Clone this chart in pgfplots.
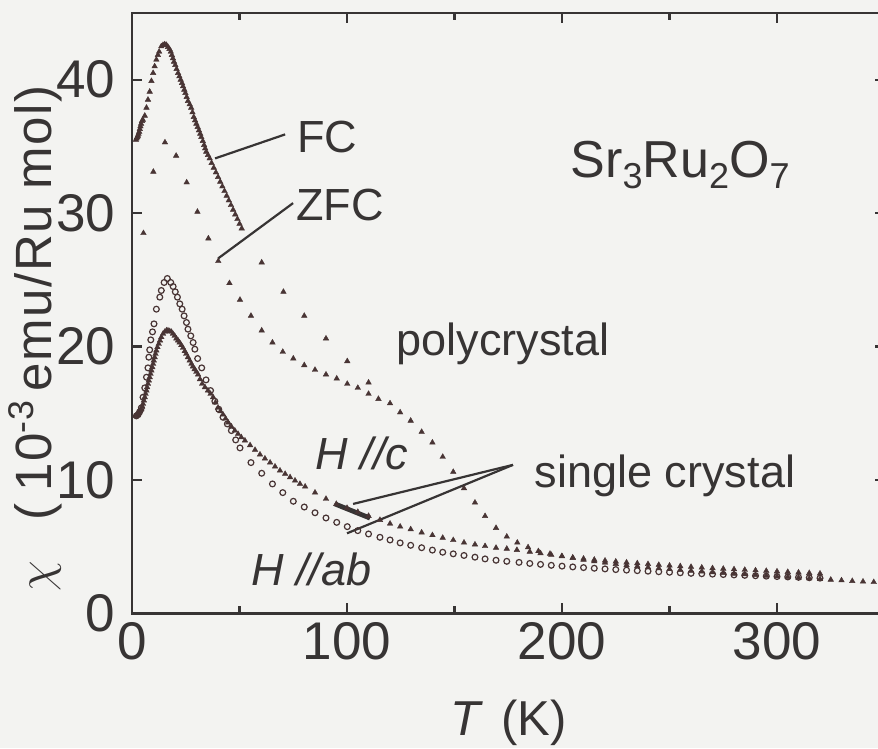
\documentclass[border=0pt]{standalone}
\usepackage{fontspec}
\setmainfont{Liberation Sans}
\usepackage{pgfplots}
\pgfplotsset{compat=1.18}
\usetikzlibrary{backgrounds}
\definecolor{ink}{RGB}{55,52,52}
\definecolor{dots}{RGB}{72,52,52}
\definecolor{bg}{RGB}{243,243,241}
\newcommand{\ann}{\fontsize{22.5}{27}\selectfont}
\begin{document}
\begin{tikzpicture}
\begin{axis}[
  scale only axis, width=376pt, height=300pt,
  xmin=0, xmax=350, ymin=0, ymax=45,
  xtick={0,100,200,300}, minor xtick={50,150,250},
  ytick={0,10,20,30,40},
  tick align=inside, major tick length=5pt, minor tick length=3.5pt,
  axis line style={line width=1.2pt, ink},
  every tick/.style={line width=1.1pt, ink},
  tick label style={font=\fontsize{26.5}{26.5}\selectfont, text=ink},
  /pgf/number format/assume math mode=true,
  yticklabel style={xshift=-5pt},
  xticklabel style={yshift=-1pt},
  xlabel={\textit{T}\hspace{9pt}(K)},
  xlabel style={at={(axis description cs:0.5,0)}, anchor=base, yshift=-61pt, font=\fontsize{24.5}{25}\selectfont, text=ink},
  ylabel={$\chi$\hspace{20pt}{\addfontfeature{LetterSpace=3}(\hspace{6pt}10\textsuperscript{-3}\,emu/Ru mol)}},
  ylabel style={at={(axis description cs:-0.129,0.458)}, anchor=center, font=\fontsize{25.5}{25.5}\selectfont, text=ink},
  tri/.style={only marks, mark=triangle*, mark size=1.6pt, color=dots, mark options={line width=0.2pt}},
  circ/.style={only marks, mark=o, mark size=1.45pt, color=dots, mark options={line width=0.6pt}},
]
% polycrystal FC
\addplot[tri] coordinates {
(1.8,35.5)(2.1,35.6)(2.4,35.7)(2.7,35.8)(3.0,35.95)(3.3,36.1)(3.6,36.3)(3.9,36.5)(4.2,36.7)(4.6,36.9)(5.0,37.0)
(5.9,37.3)(6.7,37.9)(7.4,38.5)(8.2,39.1)(9.0,39.9)(9.8,40.5)(10.5,41.0)(11.3,41.5)(12.0,41.85)(12.6,42.1)
(13.6,42.5)(14.4,42.6)(15.2,42.65)(16.0,42.6)(16.7,42.45)(17.4,42.3)(18.0,42.1)(18.5,41.85)(19.0,41.6)(19.5,41.35)
(20.1,41.1)(20.7,40.8)(21.4,40.5)(22.0,40.25)(22.6,40.0)(23.2,39.75)(23.7,39.5)(24.3,39.25)(24.8,39.0)(25.4,38.7)
(26.0,38.4)(26.8,38.15)(27.5,37.9)(28.1,37.55)(28.7,37.2)(29.3,36.95)(29.9,36.7)(30.5,36.45)(31.1,36.2)(31.7,35.95)
(32.2,35.7)(32.9,35.4)(33.5,35.1)(34.0,34.85)(34.5,34.6)(35.3,34.35)(36.1,34.1)(37.0,33.75)(38.0,33.4)(39.0,33.05)
(40.0,32.7)(41.0,32.35)(42.0,32.0)(43.0,31.65)(44.0,31.3)(45.0,30.95)(46.0,30.6)(47.0,30.25)(48.0,29.9)(49.0,29.55)
(50.0,29.2)(51.0,28.85)
(60.3,26.3)(70.4,24.1)(80.1,22.3)(90.2,20.6)(100.1,18.9)(110,17.3)
};
% polycrystal ZFC
\addplot[tri] coordinates {
(5.3,28.5)(9.9,33.1)(15.3,35.3)(20.5,34.3)(25.4,32.3)(30.4,30.1)(35.5,28.1)(40.1,26.4)(45.3,24.75)(50.2,23.5)
(55.3,22.3)(60.3,21.2)(65.3,20.3)(70.1,19.6)(75,19.1)(80.1,18.6)(85.1,18.25)(90.2,17.9)(95.2,17.6)(100.1,17.2)
(105,16.9)(110,16.45)
};
% polycrystal, FC and ZFC together above 115 K
\addplot[tri] coordinates {
(114.6,16.07)(120,15.74)(124.7,15.06)(129.6,14.44)(134.7,13.6)(139.7,12.8)(144.5,11.73)(149.4,10.6)(154.4,9.37)
(159.5,8.3)(164.2,7.29)(169.3,6.4)(174.3,5.75)(179.2,5.3)(184.2,4.95)(189,4.66)(194.4,4.46)(199.9,4.29)(205,4.15)
(210,4.02)(215,3.9)(220,3.8)(225,3.7)(230,3.61)(235,3.53)(240,3.45)(245,3.38)(250,3.31)(255,3.25)(260,3.19)
(265,3.13)(270,3.07)(275,3.02)(280,2.97)(285,2.92)(290,2.87)(295,2.82)(300,2.77)(305,2.72)(310,2.67)(315,2.62)
(320,2.57)(325,2.52)(330,2.47)(335,2.42)(340,2.38)(345,2.34)
};
% single crystal H // c
\addplot[tri] coordinates {
(1.5,14.8)(2.0,14.8)(2.5,14.85)(2.8,14.95)(3.2,15.05)(3.6,15.15)(4.0,15.25)(4.3,15.3)(4.7,15.5)(5.1,15.7)(5.5,15.95)
(5.9,16.2)(6.3,16.45)(6.7,16.7)(7.0,16.95)(7.4,17.2)(7.8,17.45)(8.2,17.7)(8.6,17.95)(9.0,18.2)(9.4,18.45)(9.8,18.7)
(10.1,18.95)(10.5,19.2)(10.9,19.45)(11.3,19.7)(11.8,19.95)(12.4,20.2)(13.0,20.45)(13.6,20.7)(14.4,20.95)(15.2,21.1)
(16.0,21.2)(16.7,21.2)(17.5,21.15)(18.3,21.1)(19.0,20.95)(19.8,20.8)(20.6,20.6)(21.4,20.45)(22.1,20.3)(22.9,20.1)
(23.7,19.9)(24.5,19.65)(25.2,19.45)(26.0,19.2)(26.8,18.95)(27.6,18.7)(28.3,18.5)(29.1,18.3)(29.9,18.1)(30.7,17.9)
(31.6,17.55)(32.6,17.2)(33.9,16.95)(35.3,16.7)(36.5,16.45)(37.7,16.2)(38.8,15.8)(40.0,15.4)(41.1,15.15)(42.3,14.9)
(43.5,14.6)(44.7,14.3)(46.2,14.0)(47.8,13.7)(49.3,13.45)(50.8,13.2)(52.5,12.95)(54.9,12.6)(57.2,12.25)(59.5,11.9)
(61.8,11.6)(64.2,11.3)(66.5,11.0)(68.8,10.7)(71.2,10.45)(73.5,10.2)(75.8,9.95)(78.1,9.7)(80.5,9.5)
(85.1,9.05)(90.2,8.58)(95,8.2)(100,7.9)(105,7.6)(110,7.3)(115.3,7.0)(120,6.72)(124.7,6.5)(129.6,6.3)(134.7,6.06)
(139.7,5.86)(144.5,5.66)(149.4,5.49)(154.4,5.3)(159.5,5.16)(164.2,5.04)(169.3,4.91)(174.3,4.84)(179,4.75)(185,4.62)
(190,4.5)(195,4.38)(200,4.27)(205,4.18)(210,4.1)(215,4.02)(220,3.95)(225,3.88)(230,3.81)(235,3.75)(240,3.69)
(245,3.63)(250,3.58)(255,3.53)(260,3.48)(265,3.43)(270,3.38)(275,3.34)(280,3.3)(285,3.26)(290,3.22)(295,3.18)
(300,3.14)(305,3.1)(310,3.06)(315,3.02)(320,2.98)
};
% single crystal H // ab
\addplot[circ] coordinates {
(2.0,14.8)(2.8,14.9)(3.5,15.1)(4.3,15.4)(5.1,16.2)(5.9,16.9)(6.7,17.7)(7.4,18.4)(7.8,19.2)(8.2,19.75)(8.7,20.5)
(9.5,21.1)(10.2,21.7)(11.3,22.8)(12.9,23.7)(13.6,24.2)(14.9,24.8)(16.4,25.1)(18.0,24.8)(19.1,24.5)(20.1,24.1)
(21.1,23.7)(22.2,23.2)(23.3,22.8)(24.2,22.3)(25.3,21.8)(26.0,21.3)(27.3,20.8)(28.4,20.3)(29.2,19.8)(30.5,19.1)
(32.4,18.4)(34.4,17.5)(36.5,16.7)(38.5,15.9)(40.3,15.3)(42.3,14.7)(44.3,14.2)(46.2,13.7)(48.2,13.0)(50.2,12.4)
(55.3,11.3)(60.3,10.5)(65.3,9.7)(70.1,9.05)(75,8.4)(80.1,7.97)(85.1,7.54)(90.2,7.15)(95.2,6.82)(100.1,6.5)
(105,6.2)(110,5.95)(115.3,5.7)(120,5.5)(124.7,5.28)(129.6,5.1)(134.7,4.92)(139.7,4.74)(144.5,4.58)(149.4,4.46)
(154.4,4.34)(159.5,4.21)(164.2,4.08)(169.3,3.98)(174.3,3.9)(180,3.82)(185,3.74)(190,3.67)(195,3.6)(200,3.54)
(205,3.48)(210,3.43)(215,3.38)(220,3.33)(225,3.28)(230,3.24)(235,3.2)(240,3.16)(245,3.12)(250,3.08)(255,3.04)
(260,3.0)(265,2.97)(270,2.94)(275,2.91)(280,2.88)(285,2.85)(290,2.82)(295,2.79)(300,2.76)(305,2.73)(310,2.7)
(315,2.67)(320,2.64)
};
% leader lines
\draw[ink, line width=1.1pt] (axis cs:38.6,34.1) -- (axis cs:71.2,35.9);
\draw[ink, line width=1.1pt] (axis cs:40,26.6) -- (axis cs:74.9,30.75);
\draw[ink, line width=1.1pt] (axis cs:177.2,11.13) -- (axis cs:102.8,8.2);
\draw[ink, line width=1.1pt] (axis cs:177.2,11.13) -- (axis cs:100,6.0);
\draw[ink, line width=2.4pt] (axis cs:94.4,8.2) -- (axis cs:110.7,7.14);
% annotations
\node[text=ink, font=\ann] at (axis cs:90.7,35.7) {FC};
\node[text=ink, font=\ann] at (axis cs:96.7,30.6) {ZFC};
\node[text=ink, font=\fontsize{26}{30}\selectfont] at (axis cs:254.9,33.6)
  {Sr\raisebox{-5.5pt}{\fontsize{18}{18}\selectfont 3}Ru\raisebox{-5.5pt}{\fontsize{18}{18}\selectfont 2}O\raisebox{-5.5pt}{\fontsize{18}{18}\selectfont 7}};
\node[text=ink, font=\ann] at (axis cs:172.6,20.2) {polycrystal};
\node[text=ink, font=\ann] at (axis cs:107,12.0) {\textit{H //c}};
\node[text=ink, font=\ann] at (axis cs:83.3,3.3) {\textit{H //ab}};
\node[text=ink, font=\ann] at (axis cs:247.9,10.3) {single crystal};
\end{axis}
\pgfresetboundingbox
\path[use as bounding box] ([xshift=-66pt,yshift=-67.5pt]current axis.south west) rectangle ([xshift=-3.25pt,yshift=6.5pt]current axis.north east);
\begin{scope}[on background layer]
\fill[bg] ([xshift=-66pt,yshift=-67.5pt]current axis.south west) rectangle ([xshift=-3.25pt,yshift=6.5pt]current axis.north east);
\end{scope}
\end{tikzpicture}
\end{document}
